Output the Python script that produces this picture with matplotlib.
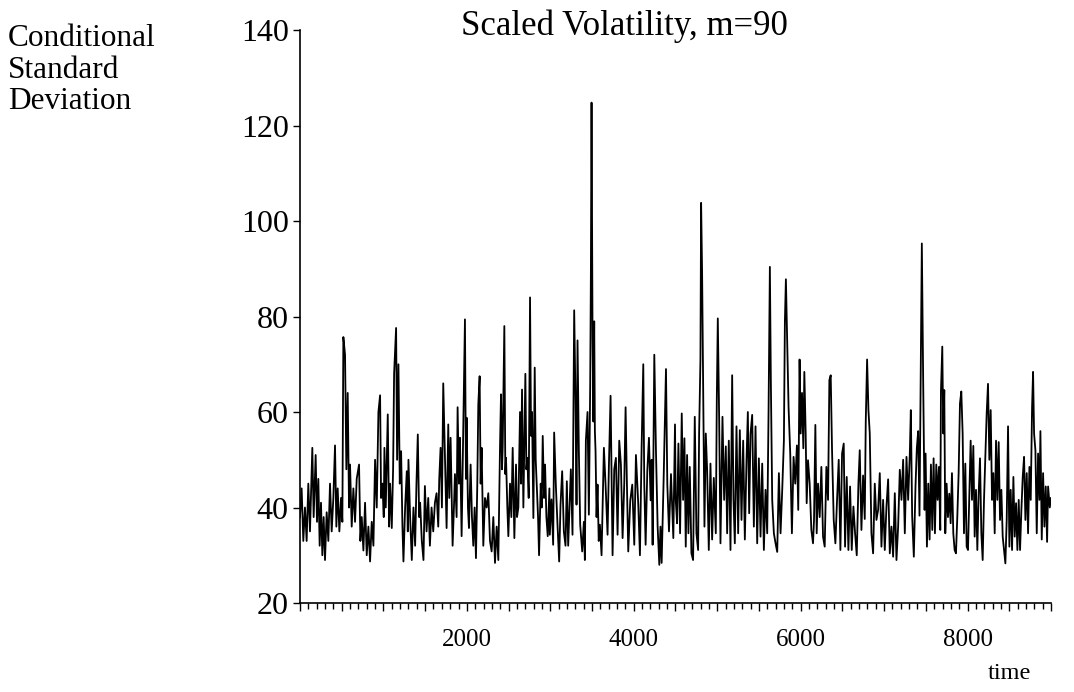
import matplotlib
matplotlib.use("Agg")
import matplotlib.pyplot as plt
from matplotlib.ticker import MultipleLocator, FuncFormatter

plt.rcParams['font.family'] = ['Liberation Serif', 'DejaVu Serif']

# valores (tempo, desvio padrão condicional)
time_a = [0, 20, 40, 60, 80, 100, 120, 148, 164, 188, 204, 220, 236, 252, 268, 284, 300,
          320, 340, 360, 380, 400, 420, 436, 452, 472, 492, 508, 520, 540, 556, 572, 588,
          600, 620, 640, 660, 680, 708, 724, 740, 760, 780, 800, 820, 840, 860, 880, 900,
          920, 940, 960, 972, 988, 1004, 1012, 1028, 1052, 1068, 1080, 1100, 1116, 1128,
          1152, 1164, 1180, 1196, 1212, 1228, 1240, 1260, 1280, 1292, 1300, 1320, 1340,
          1360, 1380, 1396, 1412, 1428, 1440, 1460, 1480]
vol_a = [38, 44, 33, 40, 33, 45, 35, 52.5, 38, 51, 37, 46, 32, 41, 30, 38, 29,
         39, 33, 45, 35, 42, 53, 36, 44, 35, 42, 37, 75.7, 72, 48, 64, 40,
         49, 36, 44, 37, 46, 49, 33, 38, 31, 41, 30, 36, 28.7, 37, 32, 50,
         40, 60, 63.5, 42, 45, 38, 52.5, 40, 59.5, 36, 45, 35.7, 48, 68,
         77.6, 50, 70, 45, 51.8, 36, 28.7, 40, 47.6, 35, 50, 38, 29,
         40, 32, 45, 55.3, 38, 41, 33, 29]

time_b = [1497, 1517, 1537, 1557, 1577, 1597, 1617, 1637, 1657, 1669, 1685, 1701, 1717,
          1737, 1757, 1777, 1789, 1805, 1829, 1845, 1857, 1877, 1889, 1905, 1917, 1937,
          1957, 1977, 1989, 1997, 2013, 2025, 2045, 2061, 2077, 2093, 2109, 2125, 2137,
          2153, 2165, 2177, 2197, 2217, 2237, 2257, 2277, 2297, 2317, 2337, 2357, 2377,
          2397, 2409, 2421, 2429, 2449, 2461, 2469, 2485, 2497, 2517, 2533, 2549, 2569,
          2589, 2601, 2617, 2637, 2649, 2661, 2677, 2701, 2713, 2725, 2741, 2757, 2769,
          2781, 2797, 2813, 2825, 2837, 2853, 2865, 2885, 2897, 2909, 2925, 2937, 2953,
          2969, 2989]
vol_b = [44.5, 35, 42, 32, 40, 35, 41, 43, 36, 46, 52.5, 40, 66,
         51, 35.7, 57.4, 42, 54.6, 32, 40, 47, 38, 61, 45, 54.6, 34,
         56, 79.4, 46, 58.8, 40, 35.7, 49, 38, 32, 40, 29.4, 45, 61.6,
         67.5, 45, 52.5, 32, 42, 40, 43, 33, 30.8, 38, 28.4, 36, 29,
         52.5, 63.7, 48, 52.5, 78, 47, 50.4, 40, 34, 45, 38, 52.5, 33.6,
         49, 38, 40, 60, 45, 64.7, 40, 68, 48, 50.4, 42, 84, 55,
         60, 37.8, 69.3, 50, 45, 38, 30, 45, 40, 55, 42, 49, 38,
         34, 44]

time_c = [2994, 3014, 3034, 3046, 3066, 3086, 3106, 3122, 3142, 3162, 3182, 3198, 3214,
          3234, 3246, 3266, 3286, 3302, 3314, 3326, 3342, 3358, 3382, 3402, 3414, 3426,
          3446, 3462, 3478, 3486, 3494, 3506, 3516, 3526, 3534, 3542, 3554, 3566, 3580,
          3594, 3614, 3642, 3662, 3686, 3702, 3722, 3746, 3766, 3786, 3806, 3826, 3846,
          3866, 3886, 3902, 3918, 3934, 3958, 3982, 4006, 4026, 4054, 4074, 4094, 4114,
          4126, 4142, 4162, 4182, 4202, 4214, 4226, 4246, 4266, 4286, 4306, 4320, 4334,
          4358, 4386, 4402, 4422, 4446, 4474, 4494]
vol_c = [34.3, 41.7, 32.2, 55.7, 44.8, 36.4, 28.7, 40.5, 47.6, 35, 32, 45.5, 32,
         42, 48, 34.3, 81.3, 62.3, 40.6, 75, 51.8, 36.4, 30.8, 37, 29, 54,
         60, 38.5, 65.8, 88.9, 124.8, 75.6, 58, 79, 56, 51.8, 38, 44.8, 33,
         36.4, 30, 52.5, 44.8, 34.3, 48.7, 63.4, 30, 48, 50.4, 34.3, 54, 49,
         33.6, 45, 61, 44.8, 30.8, 41.5, 44.8, 32.2, 51, 40.6, 30, 52.5, 70,
         44.8, 32.2, 47.6, 54.6, 41.5, 50, 32.2, 72, 51.8, 36, 28, 36, 28.4,
         46, 69, 44.8, 35, 47, 33.6, 57.4]

time_d = [4503, 4519, 4535, 4555, 4575, 4591, 4607, 4623, 4639, 4655, 4671, 4691, 4711,
          4731, 4751, 4771, 4783, 4799, 4807, 4819, 4831, 4847, 4863, 4879, 4899, 4919,
          4939, 4959, 4983, 4995, 5007, 5023, 5039, 5063, 5083, 5103, 5119, 5139, 5159,
          5179, 5195, 5211, 5231, 5251, 5271, 5291, 5311, 5331, 5351, 5367, 5383, 5399,
          5419, 5439, 5459, 5479, 5499, 5519, 5539, 5559, 5579, 5599, 5615, 5631, 5643,
          5659, 5679, 5699, 5719, 5739, 5759, 5779, 5799, 5811, 5823, 5839, 5855, 5875,
          5895, 5915, 5935, 5955, 5971, 5987]
vol_d = [41.6, 36.7, 53.4, 34.6, 59.7, 41.6, 54.5, 31.8, 51, 34.6, 48.5, 30.4, 29,
         59, 34.6, 31.1, 55.5, 71, 103.8, 89, 66, 36, 55.5, 47.9, 31.1, 49.2,
         33.3, 46.2, 34.6, 62.5, 79.6, 59, 32.5, 59, 41.6, 52.8, 34.6, 54, 31.1,
         67.7, 41.6, 32.5, 57, 34.6, 56.2, 37.4, 54, 33.3, 49.9, 60, 38.8, 55.4,
         59.4, 36, 57, 32.5, 50.3, 33.9, 49.2, 31.1, 43.7, 34.6, 59.7, 90.4, 66,
         41.6, 34.6, 32.5, 30.7, 47.2, 34.6, 43.7, 54, 79, 87.8, 74, 61, 51.3,
         34.6, 50.6, 45, 53, 39.5, 71]

time_e = [6000, 6016, 6032, 6044, 6060, 6072, 6088, 6108, 6128, 6148, 6160, 6176, 6192,
          6208, 6228, 6248, 6268, 6288, 6308, 6328, 6344, 6360, 6376, 6396, 6416, 6436,
          6456, 6476, 6496, 6516, 6532, 6552, 6572, 6592, 6612, 6632, 6652, 6672, 6692,
          6708, 6728, 6748, 6768, 6780, 6796, 6812, 6828, 6848, 6868, 6888, 6908, 6928,
          6948, 6968, 6988, 7008, 7028, 7048, 7068, 7088, 7108, 7128, 7148, 7168, 7188,
          7208, 7228, 7248, 7268, 7288, 7308, 7320, 7336, 7356, 7376, 7392, 7408, 7424,
          7440, 7452, 7468]
vol_e = [55.5, 64, 52.4, 68.4, 55.5, 40.9, 49.9, 45, 35.3, 32.5, 37.4, 57.3, 34.6,
         45, 38, 48.5, 33.9, 31.8, 48.5, 41.6, 66.7, 67.7, 52, 37.4, 32.5, 41.6,
         50, 31.1, 51.3, 53.4, 31.8, 46.4, 31.1, 44.4, 31.1, 40.2, 34.6, 30, 45,
         52, 35.3, 46.7, 37.6, 58, 71, 60.4, 55.5, 34.6, 30.4, 45, 37.4, 39.5,
         47.2, 31.8, 41.6, 31.1, 40.2, 45.9, 30.4, 36, 29.7, 43, 29, 36, 47.9,
         41.6, 50, 34.6, 50.6, 41.6, 51.3, 60.4, 38.2, 29.7, 44.4, 52.4, 56, 38.3,
         69.5, 95.3, 66.7]

time_f = [7485, 7497, 7513, 7529, 7545, 7561, 7577, 7593, 7609, 7625, 7641, 7657, 7673,
          7681, 7697, 7709, 7721, 7733, 7749, 7765, 7781, 7797, 7813, 7829, 7845, 7861,
          7877, 7893, 7909, 7925, 7941, 7957, 7973, 7989, 8005, 8021, 8037, 8053, 8069,
          8085, 8101, 8117, 8133, 8149, 8165, 8181, 8197, 8213, 8229, 8245, 8261, 8277,
          8293, 8309, 8325, 8341, 8357, 8373, 8389, 8405, 8421, 8437, 8453, 8469, 8485,
          8501, 8517, 8533, 8549, 8565, 8581, 8597, 8613, 8629, 8645, 8661, 8677, 8693,
          8709, 8725, 8741, 8757, 8773, 8785, 8797, 8813, 8829, 8845, 8861, 8873, 8889,
          8905, 8921, 8937, 8953, 8965, 8985, 9000]
vol_f = [39.5, 51.3, 31.8, 45, 33.3, 49, 35.3, 50.3, 34.6, 49, 41.6, 48.5, 35.3,
         64.3, 73.7, 55.5, 64.6, 34.6, 45, 38, 42.9, 36.7, 47.2, 34.6, 31.1, 30.4,
         38, 47.2, 61.8, 64.3, 55.5, 34.6, 49.2, 31.8, 31.1, 42.9, 54, 41.6, 52.9,
         33.9, 43.7, 31.1, 42.9, 50.3, 34.6, 29, 41.6, 50.6, 59.7, 65.9, 50, 60.4,
         41.6, 47.2, 34.6, 54, 41.6, 53.7, 37.4, 43.7, 33.9, 31.1, 28.3, 37.4, 57,
         31.8, 43.7, 31.1, 46.4, 33.9, 40.9, 31.1, 41.6, 31.1, 39.5, 46.4, 50.6, 37.4,
         47.2, 34.6, 48.5, 41.6, 61, 68.4, 55.5, 52, 34.6, 51.3, 41.6, 56, 33.3,
         47.2, 36, 44.4, 32.8, 44.4, 40, 42]

ylabel_lines = ["Conditional", "Standard", "Deviation"]

time = time_a + time_b + time_c + time_d + time_e + time_f
vol = vol_a + vol_b + vol_c + vol_d + vol_e + vol_f

fig = plt.figure(figsize=(10.74, 6.92), dpi=100)
ax = fig.add_axes([0.2793, 0.1286, 0.6993, 0.828])
ax.plot(time, vol, color="black", linewidth=1.3)

ax.set_xlim(0, 9000)
ax.set_ylim(20, 140)

for side in ["top", "right"]:
    ax.spines[side].set_visible(False)
for side in ["left", "bottom"]:
    ax.spines[side].set_linewidth(1.2)

ax.xaxis.set_major_locator(MultipleLocator(500))
ax.xaxis.set_minor_locator(MultipleLocator(100))
ax.xaxis.set_major_formatter(FuncFormatter(lambda v, p: f"{int(v)}" if v > 0 and v % 2000 == 0 else ""))
ax.yaxis.set_major_locator(MultipleLocator(20))
ax.tick_params(axis="x", which="major", length=6, width=1, labelsize=18, pad=13)
ax.tick_params(axis="x", which="minor", length=4, width=1)
ax.tick_params(axis="y", length=5, width=1, labelsize=23, pad=3)

fig.text(0.5811, 0.962, "Scaled Volatility, m=90", ha="center", va="center", fontsize=25)
for i, line in enumerate(ylabel_lines):
    fig.text(0.0075, 0.9335 - i * 0.0455, line, ha="left", va="baseline", fontsize=22.5)
fig.text(0.9395, 0.027, "time", ha="center", va="center", fontsize=17.5)

plt.savefig("out.png", dpi=100)
plt.close()
